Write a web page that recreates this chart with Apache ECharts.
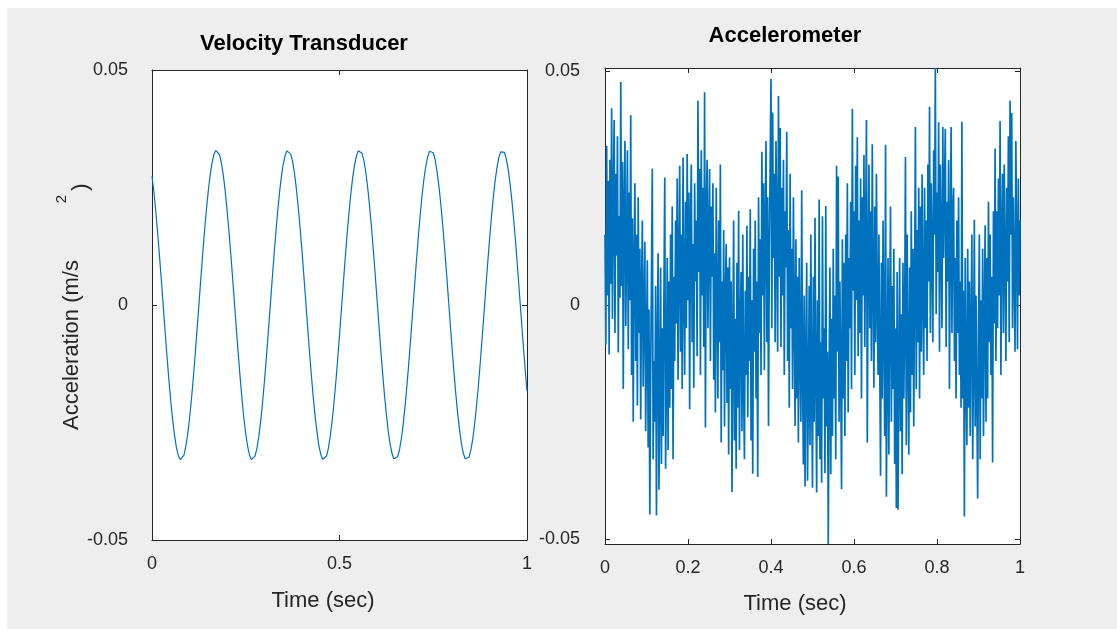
<!DOCTYPE html>
<html>
<head>
<meta charset="utf-8">
<title>Velocity Transducer / Accelerometer</title>
<script src="https://cdn.jsdelivr.net/npm/echarts@6.0.0/dist/echarts.min.js"></script>
<style>
  html, body { margin: 0; padding: 0; background: #fff; }
  #figure { position: absolute; left: 7px; top: 8px; width: 1110px; height: 621px; background: #eeeeee; }
  #main { position: absolute; left: 0; top: 0; width: 1117px; height: 629px; }
</style>
</head>
<body>
<div id="figure"></div>
<div id="main"></div>
<script>
// sample rates (Hz) - time of sample i is i / fs
const velFs = 200;
const accelFs = 500;

// velocity transducer output (m/s^2)
const velocity = [
  0.0274,0.0241,0.0200,0.0154,0.0104,0.0052,-0.0003,-0.0057,-0.0109,-0.0159,-0.0204,-0.0244,-0.0277,-0.0303,-0.0320,-0.0329,-0.0329,-0.0320,-0.0302,-0.0276,-0.0242,-0.0202,-0.0157,-0.0107,-0.0054,0.0000,0.0054,0.0107,0.0157,0.0202,0.0242,0.0276,0.0302,0.0320,0.0329,0.0329,0.0320,0.0303,
  0.0277,0.0244,0.0204,0.0159,0.0109,0.0057,0.0003,-0.0052,-0.0104,-0.0154,-0.0200,-0.0241,-0.0274,-0.0301,-0.0319,-0.0329,-0.0329,-0.0321,-0.0304,-0.0279,-0.0246,-0.0206,-0.0161,-0.0112,-0.0059,-0.0005,0.0049,0.0102,0.0152,0.0198,0.0239,0.0273,0.0300,0.0318,0.0328,0.0329,0.0321,0.0305,
  0.0280,0.0247,0.0208,0.0163,0.0114,0.0062,0.0008,-0.0047,-0.0100,-0.0150,-0.0196,-0.0237,-0.0271,-0.0299,-0.0318,-0.0328,-0.0330,-0.0322,-0.0306,-0.0281,-0.0249,-0.0210,-0.0166,-0.0117,-0.0064,-0.0010,0.0044,0.0097,0.0148,0.0194,0.0235,0.0270,0.0297,0.0317,0.0328,0.0330,0.0323,0.0307,
  0.0283,0.0251,0.0212,0.0168,0.0119,0.0067,0.0013,-0.0041,-0.0095,-0.0145,-0.0192,-0.0233,-0.0269,-0.0296,-0.0316,-0.0327,-0.0330,-0.0323,-0.0308,-0.0284,-0.0253,-0.0214,-0.0170,-0.0121,-0.0069,-0.0015,0.0039,0.0092,0.0143,0.0190,0.0232,0.0267,0.0295,0.0315,0.0327,0.0330,0.0324,0.0309,
  0.0285,0.0254,0.0216,0.0172,0.0124,0.0072,0.0018,-0.0036,-0.0090,-0.0141,-0.0188,-0.0230,-0.0265,-0.0294,-0.0315,-0.0327,-0.0330,-0.0324,-0.0310,-0.0287,-0.0256,-0.0218,-0.0175,-0.0126,-0.0074,-0.0021,0.0034,0.0087,0.0138,0.0186,0.0228,0.0264,0.0293,0.0314,0.0326,0.0330,0.0325,0.0310,
  0.0288,0.0257,0.0220,0.0177,0.0129,0.0077,0.0023,-0.0031,-0.0085,-0.0136,-0.0183
];

// accelerometer output (m/s^2)
const accel = [
  0.0150,-0.0085,0.0340,0.0020,0.0265,-0.0106,0.0310,0.0045,0.0420,-0.0030,
  0.0225,0.0395,-0.0060,0.0280,0.0105,0.0360,-0.0102,0.0190,0.0015,0.0476,
  0.0040,0.0305,-0.0180,0.0215,0.0350,-0.0045,0.0120,0.0330,-0.0095,0.0240,
  0.0010,0.0405,-0.0150,0.0185,-0.0250,0.0090,0.0260,-0.0120,0.0150,-0.0215,
  0.0230,-0.0060,0.0120,-0.0245,0.0035,0.0180,-0.0175,-0.0020,0.0135,-0.0270,
  -0.0080,0.0095,-0.0305,-0.0010,-0.0448,-0.0150,0.0060,0.0291,-0.0330,-0.0120,
  -0.0250,0.0040,-0.0450,-0.0090,0.0110,-0.0395,-0.0200,0.0080,-0.0340,-0.0050,
  -0.0280,0.0020,0.0272,-0.0350,-0.0160,0.0100,-0.0310,0.0050,-0.0220,0.0150,
  -0.0180,0.0210,-0.0330,0.0060,-0.0120,0.0180,-0.0040,0.0270,-0.0160,0.0090,
  0.0297,-0.0100,0.0150,-0.0180,0.0315,0.0040,-0.0150,0.0220,-0.0050,0.0322,
  0.0010,0.0240,-0.0223,0.0180,0.0300,-0.0080,0.0130,-0.0177,0.0260,0.0050,
  0.0180,-0.0110,0.0436,0.0070,0.0290,-0.0150,0.0330,0.0020,0.0250,-0.0090,
  0.0454,-0.0262,0.0200,0.0310,-0.0050,0.0150,0.0290,-0.0120,0.0210,0.0060,
  0.0260,-0.0160,0.0110,-0.0230,0.0250,0.0010,-0.0200,0.0180,-0.0080,0.0300,
  -0.0294,0.0050,-0.0140,0.0160,-0.0260,0.0010,0.0130,-0.0210,0.0080,-0.0320,
  0.0101,-0.0180,0.0050,-0.0400,-0.0080,0.0180,-0.0290,-0.0030,-0.0350,0.0090,
  -0.0220,0.0201,-0.0310,-0.0040,0.0070,-0.0270,0.0150,-0.0180,-0.0330,0.0030,
  -0.0150,0.0169,-0.0240,0.0060,-0.0120,0.0204,-0.0290,0.0010,-0.0361,0.0120,
  -0.0100,0.0180,-0.0200,0.0050,-0.0368,0.0230,-0.0060,0.0140,-0.0150,0.0327,
  0.0020,0.0260,-0.0140,0.0180,0.0350,-0.0080,0.0230,-0.0259,0.0120,0.0300,
  0.0483,-0.0050,0.0411,0.0100,0.0280,-0.0080,0.0350,0.0150,-0.0100,0.0446,
  0.0060,0.0378,-0.0090,0.0250,0.0020,0.0310,-0.0150,0.0200,0.0080,0.0370,
  -0.0120,0.0160,-0.0220,0.0280,-0.0050,0.0120,-0.0180,0.0230,-0.0020,-0.0259,
  0.0140,-0.0200,0.0060,-0.0294,0.0100,-0.0110,-0.0250,0.0245,-0.0150,-0.0341,
  0.0020,-0.0388,-0.0120,0.0090,-0.0376,-0.0200,0.0040,-0.0300,0.0150,-0.0180,
  -0.0391,0.0060,-0.0250,0.0186,-0.0150,-0.0401,0.0010,-0.0280,0.0225,-0.0330,
  -0.0080,-0.0380,0.0189,-0.0200,-0.0050,-0.0360,0.0211,-0.0260,-0.0100,-0.0511,
  -0.0150,0.0080,-0.0362,-0.0030,-0.0280,0.0120,-0.0200,0.0020,-0.0330,0.0297,
  -0.0100,0.0274,-0.0250,0.0050,-0.0150,-0.0394,0.0140,-0.0200,0.0090,-0.0280,
  0.0150,-0.0120,0.0260,-0.0230,0.0100,-0.0050,0.0220,-0.0180,0.0419,0.0030,
  0.0200,-0.0150,0.0297,0.0010,0.0358,-0.0110,0.0180,-0.0060,0.0270,-0.0200,
  0.0230,0.0020,0.0320,-0.0090,0.0150,0.0395,-0.0294,0.0100,0.0300,-0.0050,
  0.0200,-0.0120,0.0343,0.0050,-0.0177,0.0210,-0.0080,0.0280,0.0000,-0.0150,
  0.0150,-0.0120,-0.0365,0.0090,-0.0200,0.0180,-0.0060,-0.0280,0.0342,-0.0410,
  -0.0150,0.0100,-0.0320,-0.0020,0.0210,-0.0250,0.0040,-0.0180,0.0120,-0.0340,
  -0.0050,-0.0434,0.0070,-0.0438,-0.0150,0.0100,-0.0270,-0.0020,-0.0362,0.0090,
  -0.0200,-0.0050,0.0316,-0.0300,0.0150,-0.0100,-0.0320,0.0080,-0.0230,0.0200,
  -0.0150,0.0120,-0.0260,0.0050,0.0380,-0.0180,0.0160,-0.0080,0.0250,-0.0200,
  0.0210,-0.0100,0.0279,0.0010,-0.0150,0.0250,-0.0050,0.0180,-0.0120,0.0300,
  0.0050,0.0423,-0.0060,0.0260,0.0120,-0.0080,0.0330,0.0150,0.0506,-0.0020,
  0.0240,0.0070,0.0390,-0.0100,0.0300,0.0140,-0.0050,0.0380,0.0100,0.0250,
  0.0376,-0.0090,0.0220,0.0050,0.0310,-0.0180,0.0150,0.0380,-0.0060,0.0200,
  0.0250,-0.0120,0.0100,-0.0200,0.0180,-0.0060,0.0230,-0.0150,0.0050,-0.0220,
  0.0391,-0.0200,0.0030,-0.0452,0.0100,-0.0150,-0.0300,0.0120,-0.0220,0.0050,
  -0.0280,-0.0050,0.0150,-0.0330,-0.0120,0.0182,-0.0260,0.0020,-0.0200,-0.0414,
  -0.0060,0.0150,-0.0330,0.0010,-0.0200,0.0120,-0.0280,-0.0030,0.0170,-0.0250,
  0.0100,-0.0200,0.0220,-0.0080,0.0150,-0.0150,0.0060,-0.0337,0.0200,-0.0040,
  0.0334,-0.0120,0.0200,-0.0050,0.0270,0.0020,0.0393,-0.0150,0.0150,0.0280,
  -0.0060,0.0300,0.0100,-0.0120,0.0250,0.0050,0.0360,-0.0080,0.0436,0.0150,
  0.0410,-0.0050,0.0230,0.0080,-0.0100,0.0350,0.0120,-0.0095,0.0270,0.0020,
  0.0180
];

// tick positions
const velTimeTicks = 0.5;
const accelTimeTicks = 0.2;
const accelTicks = [-0.05, 0, 0.05];

const FONT = '"Liberation Sans", Arial, Helvetica, sans-serif';
const AX = '#262626';
const BLUE = '#0072BD';

// accelerometer panel is drawn "axis tight"
const accelMin = Math.min.apply(null, accel);
const accelMax = Math.max.apply(null, accel);

function timeAxis(gridIndex, position, interval, showLabel, margin) {
  return {
    type: 'value', gridIndex: gridIndex, position: position,
    min: 0, max: 1, interval: interval,
    splitLine: { show: false },
    axisLine: { show: true, onZero: false, lineStyle: { color: AX, width: 1 } },
    axisTick: { show: true, inside: true, length: 5, lineStyle: { color: AX } },
    axisLabel: { show: showLabel, color: AX, fontSize: 18, fontFamily: FONT, margin: margin }
  };
}

function valAxis(gridIndex, position, showLabel, margin, extra) {
  const ax = {
    type: 'value', gridIndex: gridIndex, position: position,
    splitLine: { show: false },
    axisLine: { show: true, onZero: false, lineStyle: { color: AX, width: 1 } },
    axisTick: { show: true, inside: true, length: 5, lineStyle: { color: AX } },
    axisLabel: { show: showLabel, color: AX, fontSize: 18, fontFamily: FONT, margin: margin }
  };
  return Object.assign(ax, extra);
}

const chart = echarts.init(document.getElementById('main'));

const option = {
  backgroundColor: 'transparent',
  animation: false,
  grid: [
    { left: 152, top: 70, width: 375, height: 470, show: true, backgroundColor: '#fff', borderWidth: 0 },
    { left: 605, top: 68, width: 415, height: 476, show: true, backgroundColor: '#fff', borderWidth: 0 }
  ],
  xAxis: [
    timeAxis(0, 'bottom', velTimeTicks, true, 15),
    timeAxis(0, 'top', velTimeTicks, false, 8),
    timeAxis(1, 'bottom', accelTimeTicks, true, 15),
    timeAxis(1, 'top', accelTimeTicks, false, 8)
  ],
  yAxis: [
    valAxis(0, 'left', true, 24, { min: -0.05, max: 0.05, interval: 0.05 }),
    valAxis(0, 'right', false, 8, { min: -0.05, max: 0.05, interval: 0.05 }),
    valAxis(1, 'left', true, 25, { min: accelMin, max: accelMax }),
    valAxis(1, 'right', false, 8, { min: accelMin, max: accelMax })
  ],
  series: [
    {
      name: 'Velocity Transducer', type: 'line',
      xAxisIndex: 0, yAxisIndex: 0,
      showSymbol: false,
      lineStyle: { color: BLUE, width: 1.2 },
      data: velocity.map((v, i) => [i / velFs, v])
    },
    {
      name: 'Accelerometer', type: 'line',
      xAxisIndex: 2, yAxisIndex: 2,
      showSymbol: false,
      lineStyle: { color: BLUE, width: 1.7 },
      data: accel.map((v, i) => [i / accelFs, v])
    }
  ],
  graphic: [
    { type: 'text', x: 304, y: 44, style: { text: 'Velocity Transducer', font: 'bold 22px ' + FONT, fill: '#000', align: 'center', verticalAlign: 'middle' } },
    { type: 'text', x: 785, y: 36, style: { text: 'Accelerometer', font: 'bold 22px ' + FONT, fill: '#000', align: 'center', verticalAlign: 'middle' } },
    { type: 'text', x: 323, y: 601, style: { text: 'Time (sec)', font: '22px ' + FONT, fill: AX, align: 'center', verticalAlign: 'middle' } },
    { type: 'text', x: 795, y: 604, style: { text: 'Time (sec)', font: '22px ' + FONT, fill: AX, align: 'center', verticalAlign: 'middle' } },
    // y label, with the superscript and closing bracket set apart as in the original
    { type: 'text', x: 72, y: 345, rotation: Math.PI / 2, style: { text: 'Acceleration (m/s', font: '22px ' + FONT, fill: AX, align: 'center', verticalAlign: 'middle' } },
    { type: 'text', x: 62, y: 199, rotation: Math.PI / 2, style: { text: '2', font: '15px ' + FONT, fill: AX, align: 'center', verticalAlign: 'middle' } },
    { type: 'text', x: 81, y: 187, rotation: Math.PI / 2, style: { text: ')', font: '22px ' + FONT, fill: AX, align: 'center', verticalAlign: 'middle' } }
  ]
};

// accelerometer y ticks only at -0.05, 0, 0.05 (axis itself spans data range)
option.yAxis[2].axisLabel.customValues = accelTicks;
option.yAxis[2].axisTick.customValues = accelTicks;
option.yAxis[3].axisTick.customValues = accelTicks;

chart.setOption(option);
</script>
</body>
</html>
